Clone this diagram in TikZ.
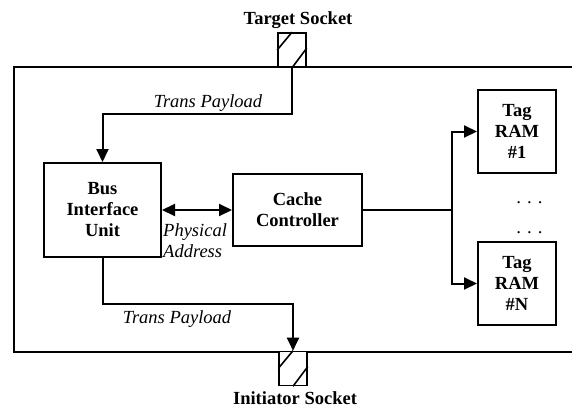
\documentclass[tikz,border=0pt]{standalone}
\usepackage{fontspec}
\setmainfont{Liberation Serif}
\usetikzlibrary{arrows.meta}

\tikzset{
  blk/.style={draw, line width=2pt, rectangle, align=center, inner sep=0pt,
    font=\bfseries\fontsize{18.5}{21}\selectfont},
  sockbox/.style={draw, line width=1.6pt, rectangle, minimum width=28pt,
    minimum height=34pt, inner sep=0pt},
  wire/.style={line width=2pt},
  arr/.style={wire, -{Triangle[width=12pt,length=13pt]}},
  darr/.style={wire, {Triangle[width=12pt,length=13pt]}-{Triangle[width=12pt,length=13pt]}},
  lbl/.style={font=\itshape\fontsize{18.5}{21}\selectfont, inner sep=0pt},
  title/.style={font=\bfseries\fontsize{18.5}{21}\selectfont, inner sep=0pt},
}

\begin{document}
\begin{tikzpicture}[x=1pt, y=-1pt]
  \useasboundingbox (0,0) rectangle (572,410);

  % enclosing module frame (open to the right)
  \draw[wire] (572,67) -| (14,352) -- (572,352);

  % sockets
  \node[sockbox, fill=white] (tsock) at (292,50) {};
  \draw[line width=1.6pt] (tsock.west) -- (tsock.north);
  \draw[line width=1.6pt] (tsock.south) -- ([yshift=2pt]tsock.east);
  \node[title] (tlabel) at (298,20) {Target Socket};

  \node[sockbox, fill=white] (isock) at (293,368.5) {};
  \draw[line width=1.6pt] (isock.west) -- (isock.north);
  \draw[line width=1.6pt] (isock.south) -- ([yshift=2pt]isock.east);
  \node[title] (ilabel) at (295,398) {Initiator Socket};

  % functional blocks
  \node[blk, minimum width=117pt, minimum height=94pt] (biu) at (102.5,210) {Bus\\Interface\\Unit};
  \node[blk, minimum width=129pt, minimum height=72pt] (cache) at (297.5,210) {Cache\\Controller};
  \node[blk, minimum width=78pt, minimum height=83pt] (tag1) at (517,131.5) {Tag\\RAM\\\#1};
  \node[blk, minimum width=78pt, minimum height=83pt] (tagN) at (517,283.5) {Tag\\RAM\\\#N};

  \node[lbl] (dots1) at (530,203) {. . .};
  \node[lbl] (dots2) at (530,233) {. . .};

  % target socket -> bus interface unit
  \draw[arr] (tsock.south) -- ++(0,46) -| (biu.north);
  \node[lbl] (tp1) at (208,103) {Trans Payload};

  % bus interface unit -> initiator socket
  \draw[arr] (biu.south) -- ++(0,46) -| (isock.north);
  \node[lbl] (tp2) at (177,319) {Trans Payload};

  % address path
  \draw[darr] (biu.east) -- (cache.west);
  \node[lbl, anchor=west, align=left] (pa) at (163,241) {Physical\\Address};

  % cache controller fan-out to tag RAMs
  \coordinate (split) at (452,210);
  \draw[wire] (cache.east) -- (split);
  \draw[arr] (split) |- (tag1.west);
  \draw[arr] (split) |- (tagN.west);
\end{tikzpicture}
\end{document}
